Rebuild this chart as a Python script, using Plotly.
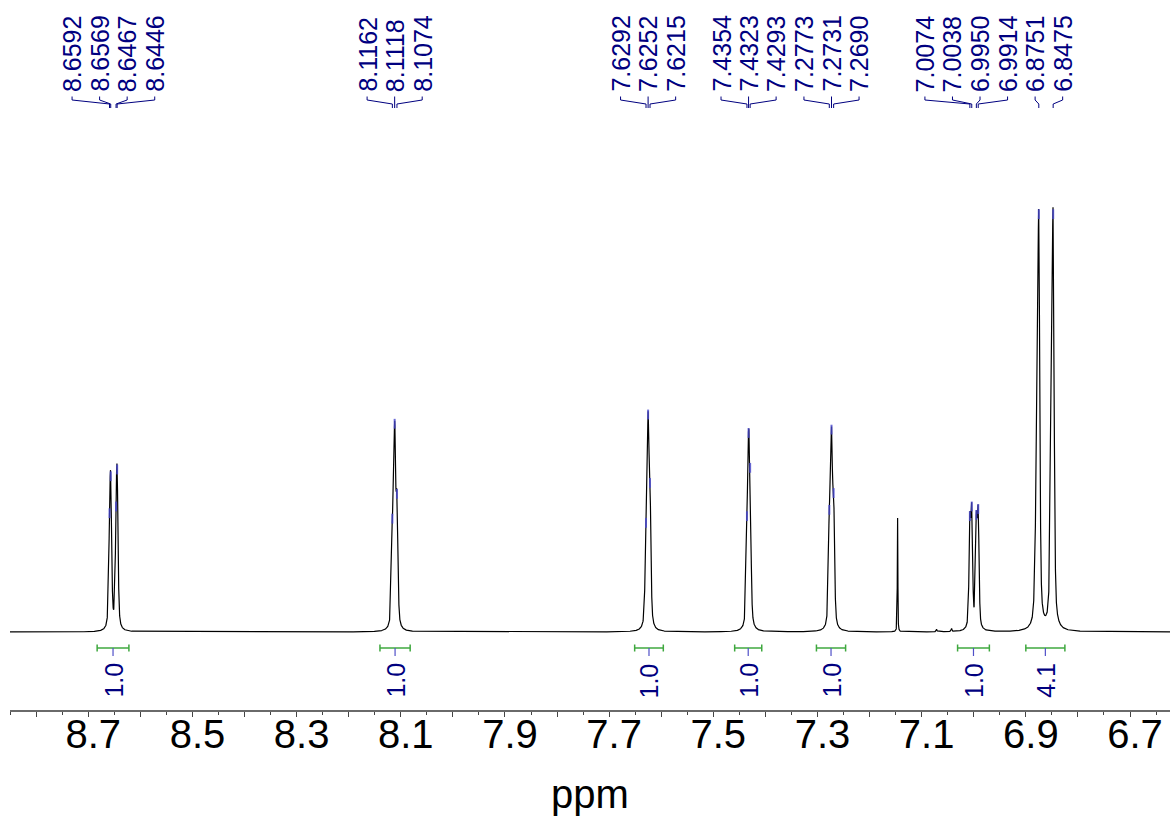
import numpy as np
import plotly.graph_objects as go

# ---------------------------------------------------------------- data ----
# picked peaks: chemical shift (ppm) and apex intensity of each labelled line
peak_ppm = [8.6592, 8.6569, 8.6467, 8.6446,
            8.1162, 8.1118, 8.1074,
            7.6292, 7.6252, 7.6215,
            7.4354, 7.4323, 7.4293,
            7.2773, 7.2731, 7.2690,
            7.0074, 7.0038, 6.9950, 6.9914,
            6.8751, 6.8475]
peak_height = [29.0, 37.8, 30.6, 39.4,
               27.7, 50.3, 33.6,
               26.7, 52.5, 36.2,
               28.3, 48.1, 39.8,
               29.8, 48.9, 33.8,
               28.3, 30.6, 28.6, 30.0,
               100.2, 100.2]
peak_fwhm = [0.0042, 0.0042, 0.0042, 0.0042,
             0.0042, 0.0042, 0.0042,
             0.0042, 0.0042, 0.0042,
             0.0042, 0.0042, 0.0042,
             0.0042, 0.0042, 0.0042,
             0.0038, 0.0038, 0.0038, 0.0038,
             0.0045, 0.0045]

# unlabelled lines: solvent singlet, small impurities, shoulders of the AA'XX' lines
extra_ppm = [7.1462, 7.0713, 7.0425, 6.8790, 6.8505]
extra_height = [27.2, 0.6, 0.7, 35.0, 35.0]
extra_fwhm = [0.0012, 0.0020, 0.0020, 0.0060, 0.0060]

# integration regions (ppm) and their normalised values
integral_start = [8.683, 8.140, 7.651, 7.459, 7.302, 7.031, 6.900]
integral_end = [8.622, 8.082, 7.596, 7.407, 7.246, 6.970, 6.825]
integral_value = [1.0, 1.0, 1.0, 1.0, 1.0, 1.0, 4.1]

# axis ticks
major_ticks = [6.7, 6.8, 6.9, 7.0, 7.1, 7.2, 7.3, 7.4, 7.5, 7.6, 7.7,
               7.8, 7.9, 8.0, 8.1, 8.2, 8.3, 8.4, 8.5, 8.6, 8.7, 8.8]
tick_labels = ["8.7", "8.5", "8.3", "8.1", "7.9", "7.7", "7.5", "7.3",
               "7.1", "6.9", "6.7"]

# ------------------------------------------------------------- layout ----
X_LEFT, X_RIGHT = 8.8503, 6.6232          # shift window (ppm)
FIG_W, FIG_H = 1170, 816
M_L, M_R, M_T, M_B = 10, 0, 0, 106
PLOT_W = FIG_W - M_L - M_R
PLOT_H = FIG_H - M_T - M_B
BASE_PX, PX_PER_UNIT = 632.0, 4.2         # baseline row and intensity scale
Y_RANGE = [-(PLOT_H - BASE_PX) / PX_PER_UNIT, BASE_PX / PX_PER_UNIT]
PX_PER_PPM = PLOT_W / (X_LEFT - X_RIGHT)

NAVY = "#00007f"
GREEN = "#3fa83f"
FONT = "Arial, Liberation Sans, sans-serif"


def yp(px):
    """vertical pixel row -> paper coordinate"""
    return (PLOT_H - px) / PLOT_H


def line_shape(x, x0, fwhm, eta=0.5):
    d = (np.asarray(x) - x0) / fwhm
    return eta / (1.0 + 4.0 * d * d) + (1.0 - eta) * np.exp(-4.0 * np.log(2) * d * d)


P = np.array(peak_ppm)
H = np.array(peak_height)
W = np.array(peak_fwhm)
XE = np.array(extra_ppm)
HE = np.array(extra_height)
WE = np.array(extra_fwhm)


def extras(x):
    out = np.zeros_like(np.asarray(x, dtype=float))
    for x0, h, w in zip(XE, HE, WE):
        out = out + h * line_shape(x, x0, w)
    return out


# line amplitudes so that the summed spectrum reaches each picked apex
A = np.array([[line_shape(P[i], P[j], W[j]) for j in range(len(P))]
              for i in range(len(P))])
amp = np.linalg.solve(A, H - extras(P))
amp = np.clip(amp, 0, None)

x = np.linspace(X_RIGHT, X_LEFT, 26000)
y = extras(x)
for x0, a, w in zip(P, amp, W):
    y = y + a * line_shape(x, x0, w)
apex = extras(P) + sum(a * line_shape(P, x0, w) for x0, a, w in zip(P, amp, W))

fig = go.Figure()
fig.add_trace(go.Scatter(x=x, y=y, mode="lines",
                         line=dict(color="black", width=1.2),
                         hoverinfo="skip", showlegend=False))
fig.add_trace(go.Scatter(x=P, y=apex - 3.0 / PX_PER_UNIT, mode="markers",
                         marker=dict(symbol="line-ns", size=7,
                                     line=dict(width=2, color="rgba(70,70,205,0.8)")),
                         hoverinfo="skip", showlegend=False))


# ---- peak labels, spread apart so they do not collide -----------------
def spread(pos, gap):
    clusters = [[i] for i in range(len(pos))]

    def place(cl):
        n = len(cl)
        offs = [(k - (n - 1) / 2.0) * gap for k in range(n)]
        c = float(np.median([pos[j] - o for j, o in zip(cl, offs)]))
        return [c + o for o in offs]

    merged = True
    while merged:
        merged = False
        placed = [place(cl) for cl in clusters]
        for a in range(len(clusters) - 1):
            if placed[a + 1][0] - placed[a][-1] < gap - 1e-9:
                clusters[a] = clusters[a] + clusters[a + 1]
                del clusters[a + 1]
                merged = True
                break
    res = []
    for cl in clusters:
        res += place(cl)
    return res


order = np.argsort(-P)                      # left to right on the page
peak_px = [(X_LEFT - P[i]) * PX_PER_PPM for i in order]
label_px = spread(peak_px, 27.55)
label_ppm = {int(i): X_LEFT - lp / PX_PER_PPM for i, lp in zip(order, label_px)}

annotations = []
shapes = []
for i in range(len(P)):
    lx = label_ppm[i]
    annotations.append(dict(x=lx, xref="x", y=yp(94), yref="paper",
                            text=f"{P[i]:.4f}", textangle=-90, showarrow=False,
                            xanchor="center", yanchor="bottom",
                            font=dict(family=FONT, size=25, color=NAVY)))
    shapes.append(dict(type="path", xref="x", yref="paper",
                       path=(f"M {lx},{yp(96.5)} L {lx},{yp(100)} "
                             f"L {P[i]},{yp(104)} L {P[i]},{yp(108)}"),
                       line=dict(color=NAVY, width=1)))

# ---- integrals ---------------------------------------------------------
for s, e, v in zip(integral_start, integral_end, integral_value):
    mid = (s + e) / 2.0
    shapes.append(dict(type="line", xref="x", yref="paper", x0=s, x1=e,
                       y0=yp(648), y1=yp(648), line=dict(color=GREEN, width=1.5)))
    for xe in (s, e):
        shapes.append(dict(type="line", xref="x", yref="paper", x0=xe, x1=xe,
                           y0=yp(644.5), y1=yp(651.5), line=dict(color=GREEN, width=1.5)))
    shapes.append(dict(type="line", xref="x", yref="paper", x0=mid, x1=mid,
                       y0=yp(648), y1=yp(656), line=dict(color="#5050c8", width=1.2)))
    annotations.append(dict(x=mid, xref="x", y=yp(661), yref="paper",
                            text=f"{v:.1f}", textangle=-90, showarrow=False,
                            xanchor="center", yanchor="top",
                            font=dict(family=FONT, size=25, color=NAVY)))

ticktext = [f"{t:.1f}" if f"{t:.1f}" in tick_labels else "" for t in major_ticks]

fig.update_layout(
    width=FIG_W, height=FIG_H,
    margin=dict(l=M_L, r=M_R, t=M_T, b=M_B),
    paper_bgcolor="white", plot_bgcolor="white",
    showlegend=False,
    shapes=shapes, annotations=annotations,
    xaxis=dict(range=[X_LEFT, X_RIGHT], showgrid=False, zeroline=False,
               showline=True, linecolor="#6a6a6a", linewidth=1.5,
               tickmode="array", tickvals=major_ticks, ticktext=ticktext,
               ticks="outside", ticklen=5, tickwidth=1, tickcolor="#444444",
               minor=dict(tickmode="linear", tick0=0, dtick=0.05,
                          ticks="outside", ticklen=3, tickcolor="#444444"),
               tickfont=dict(family=FONT, size=40, color="black"),
               ticklabelshift=-5, ticklabelstandoff=-17,
               title=dict(text="ppm", font=dict(family=FONT, size=40, color="black"),
                          standoff=26)),
    yaxis=dict(range=Y_RANGE, visible=False, showgrid=False, zeroline=False),
)

fig.write_html("out.html")
